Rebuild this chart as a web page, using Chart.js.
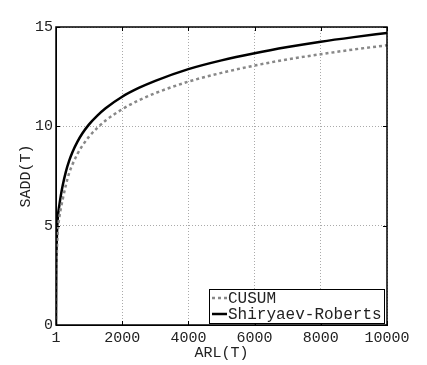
<!DOCTYPE html>
<html>
<head>
<meta charset="utf-8">
<script src="https://cdn.jsdelivr.net/npm/chart.js@4.4.0/dist/chart.umd.min.js"></script>
<style>
  html, body { margin: 0; padding: 0; background: #fff; }
  #wrap { width: 427px; height: 365px; position: relative; }
</style>
</head>
<body>
<div id="wrap"><canvas id="chart" width="427" height="365"></canvas></div>
<script>
// values
const arl = [1, 10, 30, 60, 100, 150, 200, 300, 400, 500, 650, 800, 1000, 1250, 1500, 2000, 2500, 3000, 4000, 5000, 6000, 7000, 8000, 9000, 10000];
const cusum = [0, 2.2, 3.8, 4.8, 5.4, 5.9, 6.3, 7.05, 7.65, 8.09, 8.61, 9.03, 9.48, 9.92, 10.29, 10.86, 11.31, 11.67, 12.25, 12.69, 13.06, 13.37, 13.63, 13.87, 14.08];
const shiryaev = [0, 2.8, 4.6, 5.5, 6.0, 6.55, 7.0, 7.72, 8.27, 8.71, 9.23, 9.65, 10.1, 10.54, 10.91, 11.49, 11.93, 12.29, 12.88, 13.32, 13.68, 13.99, 14.26, 14.49, 14.7];
const xTicks = [1, 2000, 4000, 6000, 8000, 10000];
const yTicks = [0, 5, 10, 15];
const seriesNames = ['CUSUM', 'Shiryaev-Roberts'];

const FONT = 'Liberation Mono';
const TXT = '#222';

function pts(ys) {
    return arl.map((x, i) => ({ x: x, y: ys[i] }));
}

// frame, inward ticks and legend box
const framePlugin = {
    id: 'frame',
    afterDraw(chart) {
        const ctx = chart.ctx;
        const a = chart.chartArea;
        const xs = chart.scales.x, ys = chart.scales.y;
        ctx.save();
        ctx.strokeStyle = '#000';
        ctx.lineWidth = 1.5;
        ctx.strokeRect(a.left, a.top, a.right - a.left, a.bottom - a.top);
        ctx.lineWidth = 1;
        ctx.beginPath();
        xTicks.forEach(t => {
            const px = Math.round(xs.getPixelForValue(t)) + 0.5;
            ctx.moveTo(px, a.top); ctx.lineTo(px, a.top + 4);
            ctx.moveTo(px, a.bottom); ctx.lineTo(px, a.bottom - 4);
        });
        yTicks.forEach(t => {
            const py = Math.round(ys.getPixelForValue(t)) + 0.5;
            ctx.moveTo(a.left, py); ctx.lineTo(a.left + 4, py);
            ctx.moveTo(a.right, py); ctx.lineTo(a.right - 4, py);
        });
        ctx.stroke();

        // legend
        const bx = 209, by = 289, bw = 175, bh = 34;
        ctx.fillStyle = '#fff';
        ctx.fillRect(bx, by, bw, bh);
        ctx.strokeStyle = '#000';
        ctx.lineWidth = 1;
        ctx.strokeRect(bx + 0.5, by + 0.5, bw, bh);
        ctx.font = '16px "' + FONT + '"';
        ctx.textBaseline = 'middle';
        chart.data.datasets.forEach((ds, i) => {
            const cy = by + 9 + i * 16;
            ctx.strokeStyle = ds.borderColor;
            ctx.lineWidth = ds.borderWidth;
            ctx.setLineDash(ds.borderDash || []);
            ctx.beginPath();
            ctx.moveTo(bx + 3, cy);
            ctx.lineTo(bx + 18, cy);
            ctx.stroke();
            ctx.setLineDash([]);
            ctx.fillStyle = TXT;
            ctx.fillText(ds.label, bx + 19, cy + 1);
        });
        ctx.restore();
    }
};

new Chart(document.getElementById('chart'), {
    type: 'line',
    data: {
        datasets: [
            {
                label: seriesNames[0],
                data: pts(cusum),
                borderColor: '#888',
                borderWidth: 2.5,
                borderDash: [3, 3],
                pointRadius: 0,
                cubicInterpolationMode: 'monotone',
                fill: false
            },
            {
                label: seriesNames[1],
                data: pts(shiryaev),
                borderColor: '#000',
                borderWidth: 2.5,
                pointRadius: 0,
                cubicInterpolationMode: 'monotone',
                fill: false
            }
        ]
    },
    plugins: [framePlugin],
    options: {
        responsive: false,
        animation: false,
        events: [],
        layout: { padding: { top: 27, right: 40, left: 0, bottom: 0 } },
        plugins: { legend: { display: false }, tooltip: { enabled: false } },
        scales: {
            x: {
                type: 'linear',
                min: 1,
                max: 10000,
                afterBuildTicks: s => { s.ticks = xTicks.map(v => ({ value: v })); },
                afterFit: s => { s.height = 40; },
                ticks: {
                    autoSkip: false,
                    maxRotation: 0,
                    padding: 4,
                    color: TXT,
                    font: { family: FONT, size: 15 },
                    callback: v => String(v)
                },
                grid: { color: '#aaa', lineWidth: 1, drawTicks: false },
                border: { display: true, color: '#000', width: 1, dash: [1, 2] },
                title: {
                    display: true,
                    text: 'ARL(T)',
                    color: TXT,
                    font: { family: FONT, size: 15 },
                    padding: { top: 0, bottom: 3 }
                }
            },
            y: {
                min: 0,
                max: 15,
                afterBuildTicks: s => { s.ticks = yTicks.map(v => ({ value: v })); },
                afterFit: s => { s.width = 56; },
                ticks: {
                    padding: 3,
                    color: TXT,
                    font: { family: FONT, size: 15 }
                },
                grid: { color: '#aaa', lineWidth: 1, drawTicks: false },
                border: { display: true, color: '#000', width: 1, dash: [1, 2] },
                title: {
                    display: true,
                    text: 'SADD(T)',
                    color: TXT,
                    font: { family: FONT, size: 15 },
                    padding: { top: 17, bottom: 0 }
                }
            }
        }
    }
});
</script>
</body>
</html>
